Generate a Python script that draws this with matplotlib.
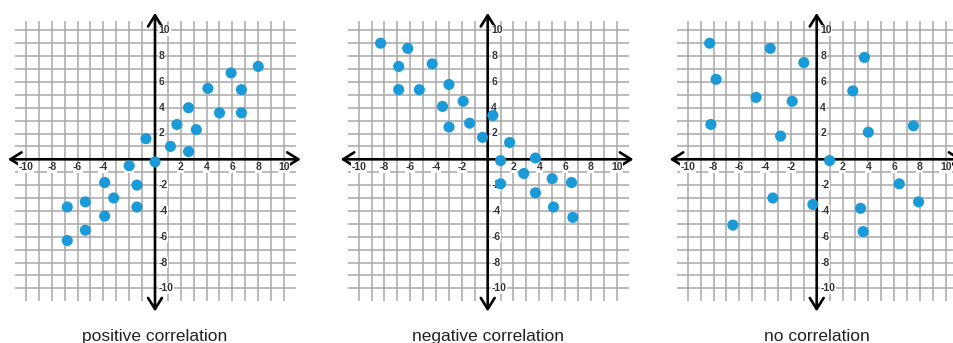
import numpy as np
import matplotlib
matplotlib.use("Agg")
import matplotlib.pyplot as plt

# ---------------- data ----------------
titles = ["positive correlation", "negative correlation", "no correlation"]

pos_x = [8.0, 5.9, 6.7, 4.1, 2.6, 5.0, 6.7, 1.7, 3.2, -0.7, 1.2, 2.6, 0.0, -2.0,
         -3.9, -1.4, -3.2, -5.4, -6.8, -1.4, -3.9, -5.4, -6.8]
pos_y = [7.2, 6.7, 5.4, 5.5, 4.0, 3.6, 3.6, 2.7, 2.3, 1.6, 1.0, 0.6, -0.2, -0.5,
         -1.8, -2.0, -3.0, -3.3, -3.7, -3.7, -4.4, -5.5, -6.3]

neg_x = [-8.3, -6.2, -6.9, -4.3, -6.9, -5.3, -3.0, -3.5, -1.9, 0.4, -3.0, -1.4,
         -0.4, 1.7, 1.0, 3.7, 1.0, 2.8, 5.0, 6.5, 3.7, 5.1, 6.6]
neg_y = [9.0, 8.6, 7.2, 7.4, 5.4, 5.4, 5.8, 4.1, 4.5, 3.4, 2.5, 2.8,
         1.7, 1.3, -0.1, 0.1, -1.9, -1.1, -1.5, -1.8, -2.6, -3.7, -4.5]

none_x = [-8.3, -3.6, 3.7, -1.0, -7.8, 2.8, -4.7, -1.9, -8.2, 7.5, -2.8, 4.0,
          1.0, 6.4, -3.4, -0.3, 7.9, 3.4, -6.5, 3.6]
none_y = [9.0, 8.6, 7.9, 7.5, 6.2, 5.3, 4.8, 4.5, 2.7, 2.6, 1.8, 2.1,
          -0.1, -1.9, -3.0, -3.5, -3.3, -3.8, -5.1, -5.6]

tick_values = [-10, -8, -6, -4, -2, 2, 4, 6, 8, 10]
tick_labels = ["-10", "-8", "-6", "-4", "-2", "2", "4", "6", "8", "10"]
grid_values = np.arange(-10, 11)

series = [(pos_x, pos_y), (neg_x, neg_y), (none_x, none_y)]

# ---------------- layout ----------------
W, H = 954, 343
fig = plt.figure(figsize=(W / 100, H / 100), dpi=100)
unit = 12.9          # px per data unit
half = 12.0          # axes half-range in data units
origins_x = [155.0, 487.7, 816.7]
origin_y = 159.3     # px from top

DOT = "#1b9ad8"
GRID = "#a8a8a8"

for (xs, ys), title, ox in zip(series, titles, origins_x):
    size = 2 * half * unit
    left = (ox - half * unit) / W
    bottom = (H - (origin_y + half * unit)) / H
    ax = fig.add_axes([left, bottom, size / W, size / H])
    ax.set_xlim(-half, half)
    ax.set_ylim(-half, half)
    ax.axis("off")

    # grid
    ax.vlines(grid_values, -11.0, 10.7, colors=GRID, linewidth=1.1, zorder=1)
    ax.hlines(grid_values, -10.85, 10.95, colors=GRID, linewidth=1.1, zorder=1)

    # axes with arrows
    arrow = dict(arrowstyle="<->,head_length=0.8,head_width=0.5",
                 lw=1.9, color="black", shrinkA=0, shrinkB=0)
    ax.annotate("", xy=(11.3, 0), xytext=(-11.4, 0), arrowprops=arrow,
                annotation_clip=False, zorder=3)
    ax.annotate("", xy=(0, 11.35), xytext=(0, -11.8), arrowprops=arrow,
                annotation_clip=False, zorder=3)

    # tick labels
    for v, lab in zip(tick_values, tick_labels):
        ax.text(v, -0.62, lab, ha="center", va="center", fontsize=7.5,
                fontweight="bold", color="#333333", family="Liberation Sans",
                bbox=dict(boxstyle="square,pad=0.05", fc="white", ec="none"),
                zorder=4)
        ax.text(0.28, v, lab, ha="left", va="center", fontsize=7.5,
                fontweight="bold", color="#333333", family="Liberation Sans",
                bbox=dict(boxstyle="square,pad=0.05", fc="white", ec="none"),
                zorder=4)

    # points
    ax.scatter(xs, ys, s=64, color=DOT, edgecolors="none", zorder=5)

    # caption
    fig.text(ox / W, (H - 340.7) / H, title, ha="center", va="baseline",
             fontsize=12.5, color="#222222", family="Liberation Sans")

fig.savefig("out.png", dpi=100)
